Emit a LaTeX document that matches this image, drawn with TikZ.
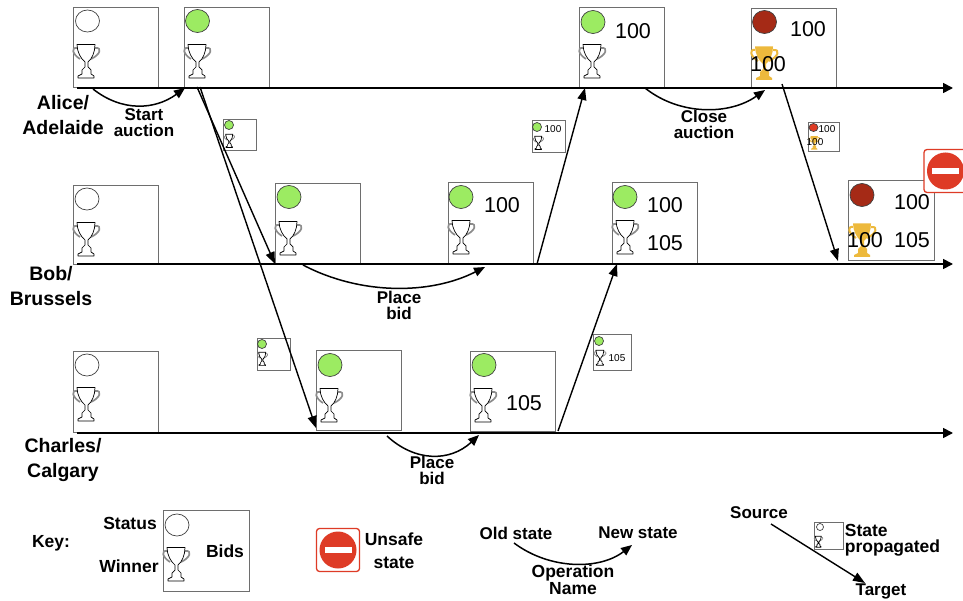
\documentclass[tikz,border=0pt]{standalone}
\usepackage{fontspec}
\setmainfont{Liberation Sans}
\usetikzlibrary{arrows.meta,shapes.geometric}
\definecolor{okgreen}{HTML}{9CEB62}
\definecolor{closedred}{HTML}{A52A16}
\definecolor{smallred}{HTML}{DE3B24}
\definecolor{gold}{HTML}{EDB93C}
\definecolor{signred}{HTML}{DE3B26}
\definecolor{boxgray}{HTML}{6E6E6E}
\tikzset{
  statebox/.style={draw=boxgray,line width=0.9pt,fill=white,inner sep=0pt,anchor=north west},
  timeline/.style={line width=1.7pt,-{Triangle[length=10pt,width=10pt]}},
  oparrow/.style={line width=1.5pt,-{Triangle[length=11pt,width=9pt]}},
  msgarrow/.style={line width=1.4pt,-{Triangle[length=12pt,width=9pt]}},
  lbl/.style={font=\fontsize{17}{16}\selectfont\bfseries,align=center,inner sep=0pt},
  who/.style={font=\fontsize{19.5}{25}\selectfont\bfseries,align=center,inner sep=0pt},
  num/.style={font=\fontsize{21.5}{24}\selectfont,inner sep=0pt},
  smallnum/.style={font=\fontsize{10}{12}\selectfont,inner sep=0pt},
}
\newcommand{\cuppath}{%
  (4,0.5) -- (22,0.5) .. controls (22,8) and (19,15) .. (15,18) -- (15,23)
  -- (18,26) -- (18,30) -- (21,32) -- (21,34) -- (5,34) -- (5,32) -- (9,30)
  -- (9,26) -- (12,23) -- (12,18) .. controls (8,15) and (4,8) .. (4,0.5) -- cycle}
\newcommand{\wintrophy}[3]{%
  \begin{scope}[shift={(#1,#2)},scale=#3,line join=round]
    \draw[draw=black!45,line width=1.5pt*#3+0.2pt] (4,4) .. controls (-2,3) and (-1,10) .. (7,15);
    \draw[draw=black!45,line width=1.5pt*#3+0.2pt] (22,4) .. controls (30,3) and (27,11) .. (18,15);
    \draw[draw=black,fill=white,line width=0.7pt] \cuppath;
  \end{scope}}
\newcommand{\goldtrophy}[3]{%
  \begin{scope}[shift={(#1,#2)},scale=#3,line join=round]
    \draw[draw=gold,line width=1.8pt*#3+0.2pt] (4,4) .. controls (-2,3) and (-1,10) .. (7,15);
    \draw[draw=gold,line width=1.8pt*#3+0.2pt] (22,4) .. controls (30,3) and (27,11) .. (18,15);
    \fill[gold] \cuppath;
  \end{scope}}
% status disc: name, x, y, rx, ry, fill
\newcommand{\disc}[6]{\node[draw=black!75,line width=0.7pt,fill=#6,ellipse,inner sep=0pt,minimum width=#4*2pt,minimum height=#5*2pt] (#1) at (#2,#3) {};}
% big box: name, x, y, w, h
\newcommand{\bigbox}[5]{\node[statebox,minimum width=#4pt,minimum height=#5pt] (#1) at (#2,#3) {};}
% no-entry sign: box name, x, y(centre)
\newcommand{\nosign}[3]{%
  \node[draw=signred,line width=1.3pt,rounded corners=3pt,fill=white,minimum size=43pt,inner sep=0pt] (#1) at (#2,#3) {};
  \node[fill=signred,circle,minimum size=37pt,inner sep=0pt] (#1c) at (#2,#3) {};
  \node[fill=white,minimum width=27pt,minimum height=6pt,inner sep=0pt] (#1b) at (#2,#3) {};}
\begin{document}
\begin{tikzpicture}[x=1pt,y=-1pt]
\useasboundingbox (0,0) rectangle (963,601);
\fill[white] (0,0) rectangle (963,601);

% Alice row boxes
\bigbox{a1}{73}{7}{85}{80}   \disc{a1d}{87.5}{21}{12}{11}{white}   \wintrophy{73}{44}{1}
\bigbox{a2}{184}{7}{85}{80}  \disc{a2d}{197.5}{21}{12}{11.5}{okgreen} \wintrophy{184}{44}{1}
\bigbox{a3}{579}{7}{85}{80}  \disc{a3d}{593}{22}{12}{11.5}{okgreen} \wintrophy{579}{44}{1}
\node[num] (a3n) at (633,31) {100};
\bigbox{a4}{751}{8}{85}{79}  \disc{a4d}{764.5}{22}{12}{11.5}{closedred} \goldtrophy{751}{46}{1}
\node[num] (a4n) at (808,29) {100};
\node[num] (a4w) at (768,64) {100};

% Bob row boxes
\bigbox{b1}{73}{185}{85}{79}  \disc{b1d}{87}{199}{12}{11}{white} \wintrophy{73}{222}{1}
\bigbox{b2}{275}{183}{85}{81} \disc{b2d}{289}{197}{12}{11.5}{okgreen} \wintrophy{275}{221}{1}
\bigbox{b3}{448}{182}{85}{81} \disc{b3d}{461}{197}{12}{11.5}{okgreen} \wintrophy{448}{220}{1}
\node[num] (b3n) at (502,205) {100};
\bigbox{b4}{612}{182}{85}{81} \disc{b4d}{625}{197}{12}{11.5}{okgreen} \wintrophy{612}{220}{1}
\node[num] (b4n) at (665,205) {100};
\node[num] (b4m) at (665,243) {105};
\bigbox{b5}{848}{180}{86}{80} \disc{b5d}{862}{195}{12}{11.5}{closedred} \goldtrophy{849}{223}{1}
\node[num] (b5n) at (912,202) {100};
\node[num] (b5w) at (865,240) {100};
\node[num] (b5m) at (912,240) {105};

% Charles row boxes
\bigbox{c1}{73}{351}{85}{81}  \disc{c1d}{87}{365}{12}{11}{white} \wintrophy{73}{387}{1}
\bigbox{c2}{316}{350}{85}{80} \disc{c2d}{330}{365}{12}{11.5}{okgreen} \wintrophy{316}{388}{1}
\bigbox{c3}{470}{351}{85}{80} \disc{c3d}{484}{365}{12}{11.5}{okgreen} \wintrophy{470}{388}{1}
\node[num] (c3n) at (524,403) {105};

% propagated states
\bigbox{s1}{223}{119}{33}{31} \disc{s1d}{229}{125}{4.5}{4.5}{okgreen} \wintrophy{224}{134}{0.4}
\bigbox{s2}{532}{120}{33}{32} \disc{s2d}{537}{127}{4.5}{4.5}{okgreen} \wintrophy{533}{136}{0.4}
\node[smallnum] (s2n) at (553,129) {100};
\bigbox{s3}{808}{122}{31}{29} \disc{s3d}{813.5}{127.5}{4.5}{4}{smallred} \goldtrophy{809}{136}{0.4}
\node[smallnum] (s3n) at (827,129) {100};
\node[smallnum] (s3w) at (815,142) {100};
\bigbox{s4}{257}{338}{33}{32} \disc{s4d}{262}{344}{4.5}{4.5}{okgreen} \wintrophy{257}{352}{0.4}
\bigbox{s5}{593}{334}{38}{36} \disc{s5d}{599}{341}{4.5}{4.5}{okgreen} \wintrophy{594}{350}{0.45}
\node[smallnum] (s5n) at (617,358) {105};

% no-entry sign at the right edge
\nosign{n1}{945.5}{171}

% timelines
\coordinate (at0) at (77,88);   \coordinate (at1) at (953,88);
\coordinate (bt0) at (77,264);  \coordinate (bt1) at (953,264);
\coordinate (ct0) at (77,433);  \coordinate (ct1) at (953,433);
\draw[timeline] (at0) -- (at1);
\draw[timeline] (bt0) -- (bt1);
\draw[timeline] (ct0) -- (ct1);

% operations
\coordinate (o1a) at (93,89);   \coordinate (o1b) at (185,88);
\coordinate (o2a) at (645,88);  \coordinate (o2b) at (765,90);
\coordinate (o3a) at (303,265); \coordinate (o3b) at (485,267);
\coordinate (o4a) at (387,436); \coordinate (o4b) at (479,435);
\draw[oparrow] (o1a) .. controls (122,112) and (155,110) .. (o1b);
\draw[oparrow] (o2a) .. controls (680,116) and (730,115) .. (o2b);
\draw[oparrow] (o3a) .. controls (360,295) and (430,295) .. (o3b);
\draw[oparrow] (o4a) .. controls (415,462) and (450,462) .. (o4b);

% messages
\coordinate (m1a) at (197,87);  \coordinate (m1b) at (275,264);
\coordinate (m2a) at (200,87);  \coordinate (m2b) at (316,428);
\coordinate (m3a) at (537,264); \coordinate (m3b) at (585,88);
\coordinate (m4a) at (558,431); \coordinate (m4b) at (617,264);
\coordinate (m5a) at (782,84);  \coordinate (m5b) at (838,261);
\draw[msgarrow] (m1a) -- (m1b);
\draw[msgarrow] (m2a) -- (m2b);
\draw[msgarrow] (m3a) -- (m3b);
\draw[msgarrow] (m4a) -- (m4b);
\draw[msgarrow] (m5a) -- (m5b);

% labels
\node[who] (alice) at (63,115) {Alice/\\Adelaide};
\node[who] (bob) at (51,286) {Bob/\\Brussels};
\node[who] (charles) at (63,460) {Charles/\\Calgary};
\node[lbl] (l1) at (144,123) {Start\\auction};
\node[lbl] (l2) at (704,124) {Close\\auction};
\node[lbl] (l3) at (399,305) {Place\\bid};
\node[lbl] (l4) at (432,470) {Place\\bid};

% key
\node[lbl,font=\fontsize{17.5}{20}\selectfont\bfseries] (k0) at (51,543) {Key:};
\bigbox{kb}{163}{510}{86}{81} \disc{kd}{177}{525}{12}{11}{white} \wintrophy{163}{547}{1}
\node[lbl,font=\fontsize{17.5}{20}\selectfont\bfseries] (k1) at (130,523) {Status};
\node[lbl,font=\fontsize{17.5}{20}\selectfont\bfseries] (k2) at (129,566) {Winner};
\node[lbl,font=\fontsize{17.5}{20}\selectfont\bfseries] (k3) at (225,551) {Bids};
\nosign{n2}{338}{550}
\node[lbl,font=\fontsize{17.5}{23}\selectfont\bfseries] (k4) at (394,551) {Unsafe\\state};
\node[lbl] (k5) at (516,533) {Old state};
\node[lbl] (k6) at (638,533) {New state};
\node[lbl,font=\fontsize{17.5}{15}\selectfont\bfseries] (k7) at (573,580) {Operation\\Name};
\coordinate (ko1) at (514,543); \coordinate (ko2) at (632,545);
\draw[oparrow] (ko1) .. controls (550,570) and (600,570) .. (ko2);
\node[lbl] (k8) at (759,513) {Source};
\node[lbl] (k9) at (881,591) {Target};
\coordinate (km1) at (771,524); \coordinate (km2) at (865,583);
\draw[msgarrow] (km1) -- (km2);
\bigbox{ks}{814}{522}{29}{27} \disc{ksd}{820}{527}{3.5}{3.5}{white} \wintrophy{814}{536}{0.33}
\node[lbl,font=\fontsize{17.5}{16}\selectfont\bfseries,align=left] (k10) at (892.5,540) {State\\propagated};
\end{tikzpicture}
\end{document}
